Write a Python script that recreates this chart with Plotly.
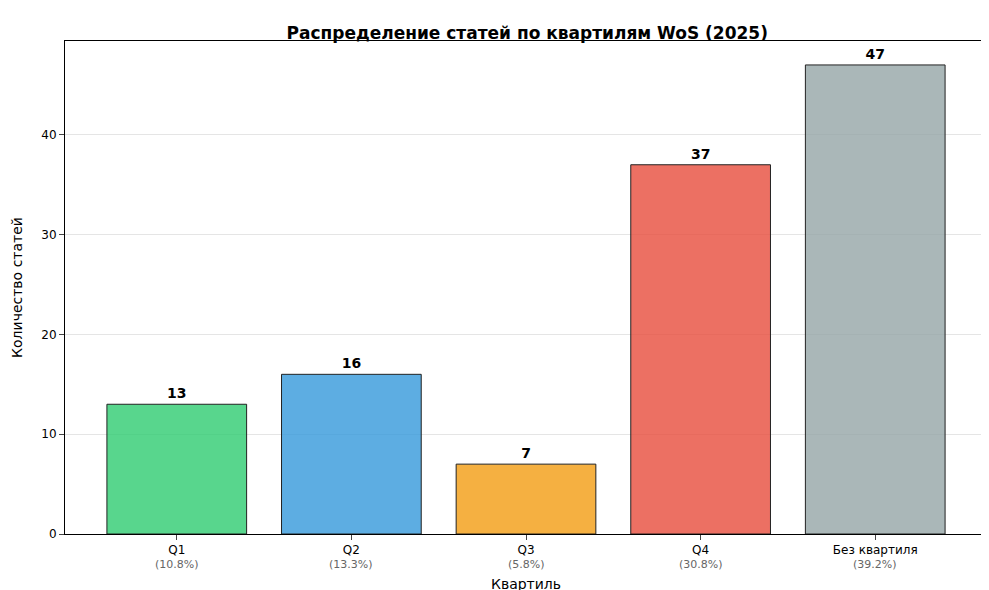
import plotly.graph_objects as go

categories = ["Q1", "Q2", "Q3", "Q4", "Без квартиля"]
counts = [13, 16, 7, 37, 47]
percents = ["(10.8%)", "(13.3%)", "(5.8%)", "(30.8%)", "(39.2%)"]
colors = ["rgba(46,204,113,0.8)", "rgba(52,152,219,0.8)", "rgba(243,156,18,0.8)",
          "rgba(231,76,60,0.8)", "rgba(149,165,166,0.8)"]

xs = list(range(len(categories)))
fig = go.Figure(go.Bar(
    x=xs, y=counts, width=0.8,
    marker=dict(color=colors, line=dict(color="#222", width=1)),
    text=[f"<b>{c}</b>" for c in counts], textposition="outside",
    textfont=dict(size=14, color="black"), cliponaxis=False,
))
for x, p in zip(xs, percents):
    fig.add_annotation(x=x, y=0, yref="y", text=p, showarrow=False, yshift=-30,
                       font=dict(size=11, color="#666"))
fig.update_layout(
    width=989, height=590, plot_bgcolor="white", paper_bgcolor="white",
    font=dict(family="DejaVu Sans", size=12, color="black"),
    margin=dict(l=57, r=9, t=33, b=53),
    title=dict(text="<b>Распределение статей по квартилям WoS (2025)</b>", x=0.525, y=0.968,
               xanchor="center", font=dict(size=17)),
    showlegend=False,
)
fig.update_xaxes(tickvals=xs, ticktext=categories, range=[-0.64, 4.64], showline=True,
                 linecolor="black", mirror=True, ticks="outside", showgrid=False,
                 title=dict(text="Квартиль", standoff=22))
fig.update_yaxes(range=[0, 49.4], dtick=10, showline=True, linecolor="black", mirror=True,
                 ticks="outside", gridcolor="rgba(0,0,0,0.1)", zeroline=False,
                 title=dict(text="Количество статей"))
fig.write_html("out.html")
